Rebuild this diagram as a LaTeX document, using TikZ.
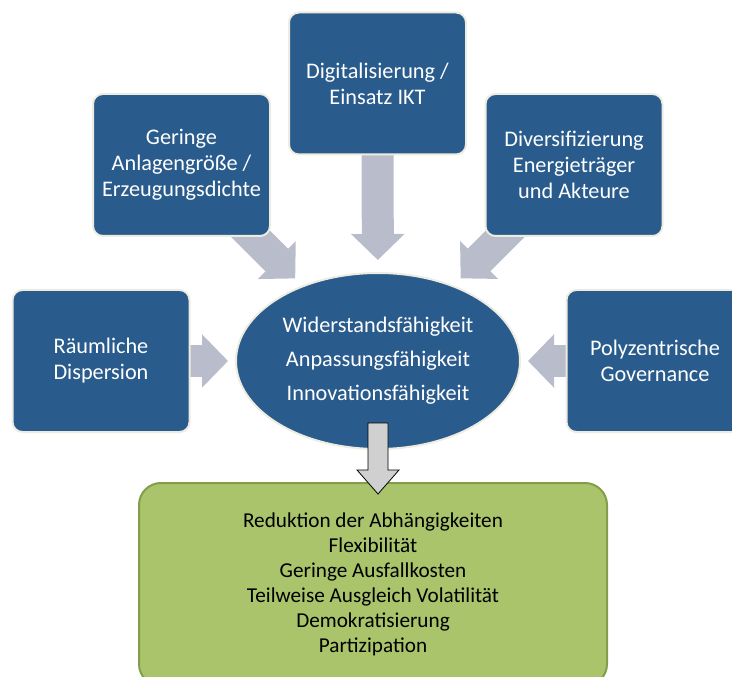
\documentclass[tikz,border=0pt]{standalone}
\usepackage{fontspec}
\setmainfont{Carlito}
\usetikzlibrary{shapes.geometric, arrows.meta, calc, backgrounds}
\newdimen\upx \upx=0.75pt
\definecolor{boxblue}{RGB}{41,92,140}
\definecolor{rim}{RGB}{238,236,225}
\definecolor{arrowgray}{RGB}{185,189,203}
\definecolor{greenfill}{RGB}{169,196,107}
\definecolor{greenrim}{RGB}{131,158,75}
\definecolor{downgray}{RGB}{208,208,208}
\begin{document}
\begin{tikzpicture}[x=1\upx, y=-1\upx,
	factor/.style={rectangle, rounded corners=10\upx, fill=boxblue, draw=rim, line width=2\upx, text=white, align=center, minimum width=177\upx, minimum height=142\upx, font=\fontsize{16.7}{19.5}\selectfont},
	ability/.style={ellipse, fill=boxblue, draw=rim, line width=2\upx, text=white, align=center, minimum width=284\upx, minimum height=176\upx, inner sep=0pt, font=\fontsize{16.7}{25.5}\selectfont},
	effect/.style={rectangle, rounded corners=22\upx, fill=greenfill, draw=greenrim, line width=2\upx, align=center, minimum width=468\upx, minimum height=203\upx, font=\fontsize{15.9}{18.75}\selectfont},
	push/.style={draw=arrowgray, line width=24pt, -{Triangle[length=19.5pt, width=39pt]}},
	result/.style={fill=downgray, draw=black, line width=0.6pt}]
	\useasboundingbox (0,0) rectangle (732,677);
	\clip (0,0) rectangle (732,677);
	
	\node[factor] (digital) at (377.5,83.5) {Digitalisierung /\\Einsatz IKT};
	\node[factor] (size) at (181.5,165) {Geringe\\Anlagengröße /\\Erzeugungsdichte};
	\node[factor] (diverse) at (574,165) {Diversifizierung\\Energieträger\\und Akteure};
	\node[factor] (space) at (101,361) {Räumliche\\Dispersion};
	\node[factor] (poly) at (655,361) {Polyzentrische\\Governance};
	\node[ability] (core) at (378,361) {Widerstandsfähigkeit\\Anpassungsfähigkeit\\Innovationsfähigkeit};
	\node[effect] (effects) at (373,584.5) {Reduktion der Abhängigkeiten\\Flexibilität\\Geringe Ausfallkosten\\Teilweise Ausgleich Volatilität\\Demokratisierung\\Partizipation};
	
	\begin{pgfonlayer}{background}
		\draw[push, shorten >=9pt] (digital.center) -- (core);
		\draw[push, shorten >=7.5pt] (size.center) -- (core);
		\draw[push, shorten >=7.5pt] (diverse.center) -- (core);
		\draw[push, shorten >=5.25pt] (space.center) -- (core);
		\draw[push, shorten >=5.25pt] (poly.center) -- (core);
	\end{pgfonlayer}
	
	\coordinate (tip) at ($(core.center |- effects.north)+(0,12)$);
	\draw[result] ($(core.center)+(-10,62)$) -- ($(core.center)+(-10,109)$) -- ($(core.center)+(-21,109)$) -- (tip) -- ($(core.center)+(21,109)$) -- ($(core.center)+(10,109)$) -- ($(core.center)+(10,62)$) -- cycle;
\end{tikzpicture}
\end{document}
